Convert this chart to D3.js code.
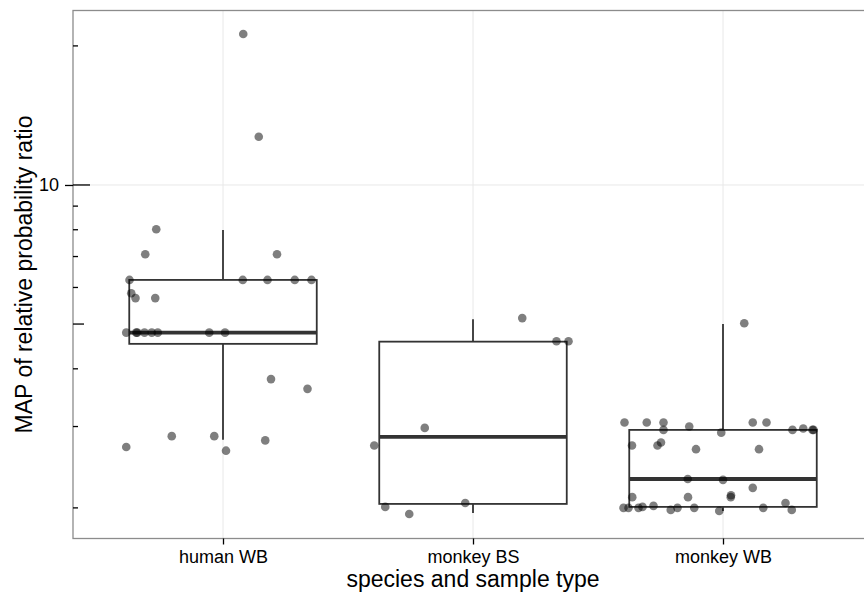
<!DOCTYPE html>
<html>
<head>
<meta charset="utf-8">
<script src="https://cdn.jsdelivr.net/npm/d3@7.9.0/dist/d3.min.js"></script>
<style>
  body { margin: 0; background: #fff; }
  svg { display: block; font-family: "Liberation Sans", Arial, sans-serif; }
</style>
</head>
<body>
<svg id="chart" width="864" height="593"></svg>
<script>
// categories on the x axis
const categories = ['human WB', 'monkey BS', 'monkey WB'];

// box statistics: [lower whisker, q1, median, q3, upper whisker]
const boxHumanWB  = [2.81, 4.53, 4.79, 6.23, 7.99];
const boxMonkeyBS = [1.95, 2.04, 2.85, 4.58, 5.12];
const boxMonkeyWB = [1.97, 2.01, 2.31, 2.95, 5.00];

// points (MAP values) and their horizontal jitter (in category units)
const humanWB = [21.23, 12.72, 8.02, 7.08, 7.08, 6.23, 6.23, 6.23, 6.23, 6.23,
  5.83, 5.69, 5.69, 4.79, 4.79, 4.79, 4.79, 4.79, 4.79, 4.79, 4.79,
  3.80, 3.62, 2.71, 2.86, 2.86, 2.80, 2.66];
const humanWBJitter = [0.081, 0.143, -0.267, -0.311, 0.216, -0.374, 0.079, 0.178, 0.287, 0.354,
  -0.367, -0.350, -0.271, -0.387, -0.347, -0.343, -0.314, -0.285, -0.261, -0.055, 0.008,
  0.192, 0.338, -0.387, -0.205, -0.035, 0.169, 0.012];

const monkeyBS = [5.15, 4.59, 4.59, 2.98, 2.73, 2.01, 1.94, 2.05];
const monkeyBSJitter = [0.197, 0.334, 0.382, -0.193, -0.395, -0.351, -0.255, -0.031];

const monkeyWB = [5.02, 3.06, 3.06, 3.06, 3.06, 3.06, 2.95, 2.95, 2.95, 2.95,
  3.00, 2.97, 2.91, 2.73, 2.73, 2.77, 2.68, 2.68, 2.31, 2.30,
  2.21, 2.11, 2.11, 2.13, 2.11, 2.05, 2.00, 2.00, 2.00, 2.00,
  2.00, 2.00, 2.01, 2.02, 1.98, 1.98, 1.97];
const monkeyWBJitter = [0.085, -0.394, -0.305, -0.238, 0.119, 0.174, -0.238, 0.278, 0.358, 0.362,
  -0.135, 0.321, -0.007, -0.364, -0.262, -0.248, -0.108, 0.144, -0.141, 0.000,
  0.119, -0.363, -0.140, 0.032, 0.031, 0.250, -0.398, -0.378, -0.338, -0.182,
  -0.115, 0.161, -0.322, -0.278, -0.209, 0.275, -0.015];

// y axis: labelled break and log tick marks
const yLabelTicks = [10];
const logTicks = [2, 3, 4, 5, 6, 7, 8, 9, 10, 20];
const yLimits = [1.717, 23.86];

const boxes = [boxHumanWB, boxMonkeyBS, boxMonkeyWB];
const points = [
  { cat: categories[0], values: humanWB, jitter: humanWBJitter },
  { cat: categories[1], values: monkeyBS, jitter: monkeyBSJitter },
  { cat: categories[2], values: monkeyWB, jitter: monkeyWBJitter }
].flatMap(g => g.values.map((v, i) => ({ cat: g.cat, value: v, jitter: g.jitter[i] })));

const panel = { left: 73, right: 873, top: 10.5, bottom: 538.5 };
const svg = d3.select('#chart');

const x = d3.scalePoint()
  .domain(categories)
  .range([panel.left, panel.right])
  .padding(0.6);
const step = x.step();

const y = d3.scaleLog()
  .domain(yLimits)
  .range([panel.bottom, panel.top]);

// panel background
svg.append('rect')
  .attr('x', panel.left).attr('y', panel.top)
  .attr('width', panel.right - panel.left)
  .attr('height', panel.bottom - panel.top)
  .attr('fill', '#fff');

// grid lines
const grid = svg.append('g').attr('stroke', '#e8e8e8').attr('stroke-width', 1);
grid.selectAll('line.v')
  .data(categories)
  .join('line')
  .attr('x1', d => x(d)).attr('x2', d => x(d))
  .attr('y1', panel.top).attr('y2', panel.bottom);
grid.selectAll('line.h')
  .data(yLabelTicks)
  .join('line')
  .attr('x1', panel.left).attr('x2', panel.right)
  .attr('y1', d => y(d)).attr('y2', d => y(d));

// boxplots
const boxW = step * 0.75;
const bx = svg.append('g').attr('stroke', '#333').attr('fill', 'none');
boxes.forEach((b, i) => {
  const cx = x(categories[i]);
  const g = bx.append('g');
  g.append('line')
    .attr('x1', cx).attr('x2', cx)
    .attr('y1', y(b[3])).attr('y2', y(b[4]))
    .attr('stroke-width', 1.8);
  g.append('line')
    .attr('x1', cx).attr('x2', cx)
    .attr('y1', y(b[1])).attr('y2', y(b[0]))
    .attr('stroke-width', 1.8);
  g.append('rect')
    .attr('x', cx - boxW / 2).attr('width', boxW)
    .attr('y', y(b[3])).attr('height', y(b[1]) - y(b[3]))
    .attr('fill', '#fff')
    .attr('stroke-width', 1.8);
  g.append('line')
    .attr('x1', cx - boxW / 2).attr('x2', cx + boxW / 2)
    .attr('y1', y(b[2])).attr('y2', y(b[2]))
    .attr('stroke-width', 3.8);
});

// jittered points
svg.append('g')
  .selectAll('circle')
  .data(points)
  .join('circle')
  .attr('cx', d => x(d.cat) + d.jitter * step)
  .attr('cy', d => y(d.value))
  .attr('r', 4.3)
  .attr('fill', '#000')
  .attr('fill-opacity', 0.5);

// panel border
svg.append('rect')
  .attr('x', panel.left).attr('y', panel.top)
  .attr('width', panel.right - panel.left)
  .attr('height', panel.bottom - panel.top)
  .attr('fill', 'none')
  .attr('stroke', '#8c8c8c')
  .attr('stroke-width', 1.3);

// log ticks inside the panel
const tickLen = v => {
  const m = v / Math.pow(10, Math.floor(Math.log10(v) + 1e-9));
  if (Math.abs(m - 1) < 1e-6) return 17;
  if (Math.abs(m - 5) < 1e-6) return 11;
  return 5;
};
svg.append('g')
  .selectAll('line')
  .data(logTicks)
  .join('line')
  .attr('x1', panel.left).attr('x2', d => panel.left + tickLen(d))
  .attr('y1', d => y(d)).attr('y2', d => y(d))
  .attr('stroke', '#000')
  .attr('stroke-width', 1.3);

// y axis
const yAxis = svg.append('g')
  .attr('transform', `translate(${panel.left},0)`)
  .call(d3.axisLeft(y).tickValues(yLabelTicks).tickFormat(d3.format('d')).tickSize(8).tickPadding(6));
yAxis.select('.domain').remove();
yAxis.selectAll('.tick line').attr('stroke', '#000').attr('stroke-width', 1.3);
yAxis.selectAll('.tick text')
  .attr('font-size', 18)
  .attr('font-family', '"Liberation Sans", Arial, sans-serif')
  .attr('fill', '#000');

// x axis
const xAxis = svg.append('g')
  .attr('transform', `translate(0,${panel.bottom})`)
  .call(d3.axisBottom(x).tickSize(6).tickPadding(6));
xAxis.select('.domain').remove();
xAxis.selectAll('.tick line').attr('stroke', '#000').attr('stroke-width', 1.3);
xAxis.selectAll('.tick text')
  .attr('font-size', 18)
  .attr('font-family', '"Liberation Sans", Arial, sans-serif')
  .attr('fill', '#000');

// axis titles
svg.append('text')
  .attr('x', (panel.left + panel.right) / 2)
  .attr('y', 587)
  .attr('text-anchor', 'middle')
  .attr('font-size', 23)
  .text('species and sample type');
svg.append('text')
  .attr('transform', `translate(32,${(panel.top + panel.bottom) / 2}) rotate(-90)`)
  .attr('text-anchor', 'middle')
  .attr('font-size', 23)
  .text('MAP of relative probability ratio');
</script>
</body>
</html>
